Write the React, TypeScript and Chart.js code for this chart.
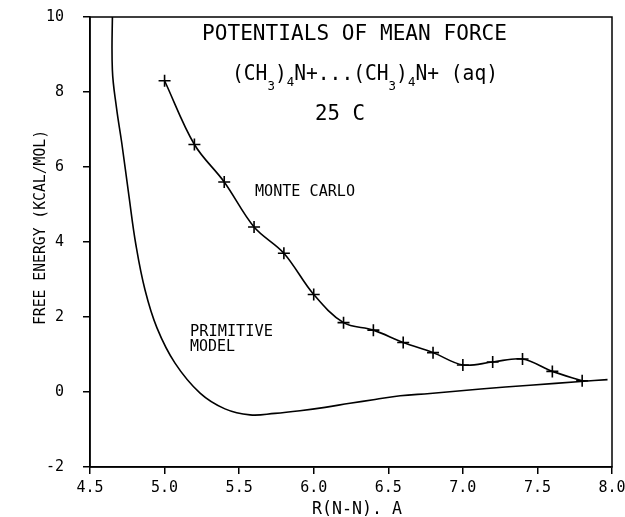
import { useEffect, useRef } from 'react';
import { Chart, registerables } from 'chart.js';

Chart.register(...registerables);

// Monte Carlo potential of mean force (crosses)
const mcR = [5.0, 5.2, 5.4, 5.6, 5.8, 6.0, 6.2, 6.4, 6.6, 6.8, 7.0, 7.2, 7.4, 7.6, 7.8];
const mcE = [8.3, 6.6, 5.6, 4.4, 3.7, 2.6, 1.85, 1.65, 1.32, 1.05, 0.72, 0.8, 0.88, 0.55, 0.3];

// Primitive model curve
const pmR = [4.651, 4.65, 4.678, 4.713, 4.761, 4.808, 4.869, 4.949, 5.07, 5.238, 5.405, 5.573, 5.74, 5.908, 6.076, 6.243, 6.411, 6.58, 6.78, 7.12, 7.45, 7.79, 7.97];
const pmE = [10.32, 8.59, 7.57, 6.64, 5.23, 3.92, 2.72, 1.71, 0.77, -0.03, -0.45, -0.61, -0.57, -0.5, -0.41, -0.3, -0.2, -0.1, -0.04, 0.08, 0.18, 0.28, 0.33];

const xMin = 4.5;
const xMax = 8.0;
const xStep = 0.5;
const yMin = -2;
const yMax = 10;
const yStep = 2;

const titleText = 'POTENTIALS OF MEAN FORCE';
const tempText = '25 C';
const mcLabel = 'MONTE CARLO';
const pmLabel1 = 'PRIMITIVE';
const pmLabel2 = 'MODEL';
const xTitle = 'R(N-N). A';
const yTitle = 'FREE ENERGY (KCAL/MOL)';

const FONT = '"DejaVu Sans Mono", monospace';

function fitText(ctx: CanvasRenderingContext2D, text: string, x: number, baseline: number, size: number, width: number) {
  ctx.font = `${size}px ${FONT}`;
  const w = ctx.measureText(text).width;
  ctx.save();
  ctx.translate(x, baseline);
  ctx.scale(width / w, 1);
  ctx.fillText(text, 0, 0);
  ctx.restore();
}

const textPlugin = {
  id: 'textPlugin',
  afterDraw(chart: any) {
    const ctx: CanvasRenderingContext2D = chart.ctx;
    const a = chart.chartArea;
    ctx.save();
    ctx.strokeStyle = '#000';
    ctx.lineWidth = 1.5;
    ctx.strokeRect(a.left, a.top, a.right - a.left, a.bottom - a.top);

    ctx.fillStyle = '#000';
    ctx.textAlign = 'left';
    ctx.textBaseline = 'alphabetic';

    fitText(ctx, titleText, 202, 40, 20.5, 305);

    // (CH3)4N+...(CH3)4N+ (aq)
    const segs: [string, number, number][] = [
      ['(CH', 20.5, 0],
      ['3', 13, 10],
      [')', 20.5, 0],
      ['4', 13, 6],
      ['N+...(CH', 20.5, 0],
      ['3', 13, 10],
      [')', 20.5, 0],
      ['4', 13, 6],
      ['N+ (aq)', 20.5, 0],
    ];
    let total = 0;
    const widths: number[] = [];
    for (const [t, s] of segs) {
      ctx.font = `${s}px ${FONT}`;
      const w = ctx.measureText(t).width;
      widths.push(w);
      total += w;
    }
    const k = 266 / total;
    ctx.save();
    ctx.translate(232, 80);
    ctx.scale(k, 1);
    let cx = 0;
    segs.forEach(([t, s, off], i) => {
      ctx.font = `${s}px ${FONT}`;
      ctx.fillText(t, cx, off);
      cx += widths[i];
    });
    ctx.restore();

    fitText(ctx, tempText, 315, 120, 20.5, 50);
    fitText(ctx, mcLabel, 255, 196, 15.5, 100);
    fitText(ctx, pmLabel1, 190, 336, 15.5, 83);
    fitText(ctx, pmLabel2, 190, 351, 15.5, 45);
    fitText(ctx, xTitle, 312, 514, 17, 90);

    ctx.save();
    ctx.translate(45, 325);
    ctx.rotate(-Math.PI / 2);
    fitText(ctx, yTitle, 0, 0, 16, 195);
    ctx.restore();

    ctx.restore();
  },
};

export default function App() {
  const ref = useRef<HTMLCanvasElement>(null);

  useEffect(() => {
    document.body.style.margin = '0';
    const canvas = ref.current;
    if (!canvas) return;
    const chart = new Chart(canvas, {
      type: 'scatter',
      data: {
        datasets: [
          {
            label: 'Monte Carlo',
            data: mcR.map((r, i) => ({ x: r, y: mcE[i] })),
            showLine: true,
            borderColor: '#000',
            backgroundColor: '#000',
            borderWidth: 1.6,
            tension: 0.35,
            pointStyle: 'cross',
            pointRadius: 6,
            pointBorderWidth: 1.6,
            pointBorderColor: '#000',
          },
          {
            label: 'Primitive model',
            data: pmR.map((r, i) => ({ x: r, y: pmE[i] })),
            showLine: true,
            borderColor: '#000',
            borderWidth: 1.6,
            tension: 0.4,
            pointRadius: 0,
          },
        ],
      },
      options: {
        responsive: false,
        animation: false,
        devicePixelRatio: 1,
        layout: { padding: { top: 17, right: 13, left: 0, bottom: 0 } },
        plugins: { legend: { display: false }, tooltip: { enabled: false } },
        scales: {
          x: {
            type: 'linear',
            min: xMin,
            max: xMax,
            afterFit: (s: any) => { s.height = 50; s.paddingLeft = 0; s.paddingRight = 0; },
            ticks: {
              stepSize: xStep,
              autoSkip: false,
              maxRotation: 0,
              color: '#000',
              padding: 5,
              font: { family: FONT, size: 15 },
              callback: (v: any) => Number(v).toFixed(1),
            },
            grid: { drawOnChartArea: false, drawTicks: true, tickLength: 7, color: '#000', lineWidth: 1.5 },
            border: { display: true, color: '#000', width: 1.5 },
          },
          y: {
            type: 'linear',
            min: yMin,
            max: yMax,
            afterFit: (s: any) => { s.width = 90; s.paddingTop = 0; s.paddingBottom = 0; },
            ticks: {
              stepSize: yStep,
              autoSkip: false,
              color: '#000',
              padding: 19,
              font: { family: FONT, size: 15 },
              callback: (v: any) => String(v),
            },
            grid: { drawOnChartArea: false, drawTicks: true, tickLength: 7, color: '#000', lineWidth: 1.5 },
            border: { display: true, color: '#000', width: 1.5 },
          },
        },
      },
      plugins: [textPlugin],
    });
    return () => chart.destroy();
  }, []);

  return <canvas ref={ref} width={625} height={517} style={{ display: 'block' }} />;
}
